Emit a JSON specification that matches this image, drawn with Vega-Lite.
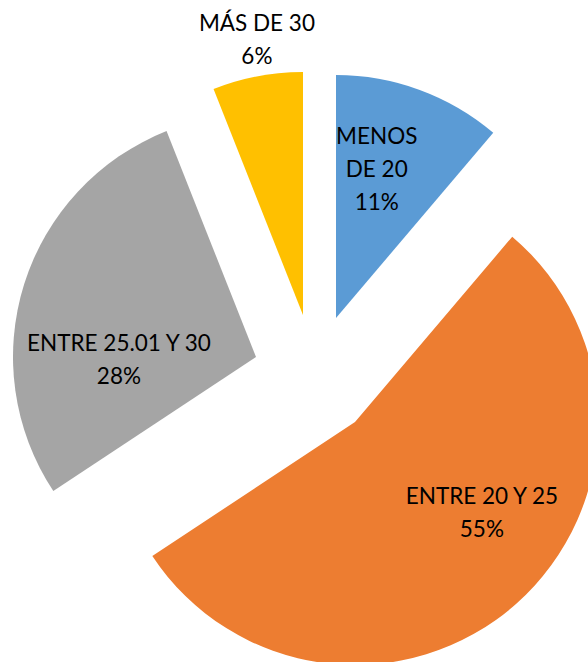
{
  "$schema": "https://vega.github.io/schema/vega-lite/v6.json",
  "width": 588,
  "height": 662,
  "autosize": "none",
  "padding": 0,
  "background": "white",
  "config": {"view": {"stroke": null}},
  "data": {
    "values": [
      {"grupo": "MENOS DE 20", "texto": "MENOS\nDE 20\n11%", "porcentaje": 11.2, "orden": 1},
      {"grupo": "ENTRE 20 Y 25", "texto": "ENTRE 20 Y 25\n55%", "porcentaje": 54.5, "orden": 2},
      {"grupo": "ENTRE 25.01 Y 30", "texto": "ENTRE 25.01 Y 30\n28%", "porcentaje": 28.3, "orden": 3},
      {"grupo": "MÁS DE 30", "texto": "MÁS DE 30\n6%", "porcentaje": 6.0, "orden": 4}
    ]
  },
  "transform": [
    {"stack": "porcentaje", "groupby": [], "sort": [{"field": "orden"}], "as": ["p0", "p1"]},
    {"calculate": "(datum.p0 + datum.p1) / 2", "as": "pmid"}
  ],
  "encoding": {
    "color": {
      "field": "grupo",
      "type": "nominal",
      "scale": {
        "domain": ["MENOS DE 20", "ENTRE 20 Y 25", "ENTRE 25.01 Y 30", "MÁS DE 30"],
        "range": ["#5B9BD5", "#ED7D31", "#A5A5A5", "#FFC000"]
      },
      "legend": null
    }
  },
  "layer": [
    {
      "transform": [{"filter": "datum.orden == 1"}],
      "layer": [
        {
          "mark": {"type": "arc", "outerRadius": 243, "xOffset": 42, "yOffset": -13},
          "encoding": {
            "theta": {"field": "p0", "type": "quantitative", "scale": {"domain": [0, 100], "range": [0, 6.283185307179586]}},
            "theta2": {"field": "p1"}
          }
        },
        {
          "mark": {"type": "text", "radius": 153, "xOffset": 42, "yOffset": -13, "dx": -12, "dy": -37, "font": "Lato", "fontSize": 22.5, "lineBreak": "\n", "lineHeight": 33, "align": "center", "baseline": "middle"},
          "encoding": {
            "theta": {"field": "pmid", "type": "quantitative", "scale": {"domain": [0, 100], "range": [0, 6.283185307179586]}},
            "text": {"field": "texto"},
            "color": {"value": "black"}
          }
        }
      ]
    },
    {
      "transform": [{"filter": "datum.orden == 2"}],
      "layer": [
        {
          "mark": {"type": "arc", "outerRadius": 243, "xOffset": 61, "yOffset": 91},
          "encoding": {
            "theta": {"field": "p0", "type": "quantitative", "scale": {"domain": [0, 100], "range": [0, 6.283185307179586]}},
            "theta2": {"field": "p1"}
          }
        },
        {
          "mark": {"type": "text", "radius": 152, "xOffset": 61, "yOffset": 91, "dx": 26, "dy": -39, "font": "Lato", "fontSize": 22.5, "lineBreak": "\n", "lineHeight": 33, "align": "center", "baseline": "middle"},
          "encoding": {
            "theta": {"field": "pmid", "type": "quantitative", "scale": {"domain": [0, 100], "range": [0, 6.283185307179586]}},
            "text": {"field": "texto"},
            "color": {"value": "black"}
          }
        }
      ]
    },
    {
      "transform": [{"filter": "datum.orden == 3"}],
      "layer": [
        {
          "mark": {"type": "arc", "outerRadius": 243, "xOffset": -38, "yOffset": 26},
          "encoding": {
            "theta": {"field": "p0", "type": "quantitative", "scale": {"domain": [0, 100], "range": [0, 6.283185307179586]}},
            "theta2": {"field": "p1"}
          }
        },
        {
          "mark": {"type": "text", "radius": 128, "xOffset": -38, "yOffset": 26, "dx": -15, "dy": 25, "font": "Lato", "fontSize": 22.5, "lineBreak": "\n", "lineHeight": 33, "align": "center", "baseline": "middle"},
          "encoding": {
            "theta": {"field": "pmid", "type": "quantitative", "scale": {"domain": [0, 100], "range": [0, 6.283185307179586]}},
            "text": {"field": "texto"},
            "color": {"value": "black"}
          }
        }
      ]
    },
    {
      "transform": [{"filter": "datum.orden == 4"}],
      "layer": [
        {
          "mark": {"type": "arc", "outerRadius": 243, "xOffset": 9, "yOffset": -16},
          "encoding": {
            "theta": {"field": "p0", "type": "quantitative", "scale": {"domain": [0, 100], "range": [0, 6.283185307179586]}},
            "theta2": {"field": "p1"}
          }
        },
        {
          "mark": {"type": "text", "radius": 278, "xOffset": 9, "yOffset": -16, "dx": 6, "dy": -18, "font": "Lato", "fontSize": 22.5, "lineBreak": "\n", "lineHeight": 33, "align": "center", "baseline": "middle"},
          "encoding": {
            "theta": {"field": "pmid", "type": "quantitative", "scale": {"domain": [0, 100], "range": [0, 6.283185307179586]}},
            "text": {"field": "texto"},
            "color": {"value": "black"}
          }
        }
      ]
    }
  ]
}
